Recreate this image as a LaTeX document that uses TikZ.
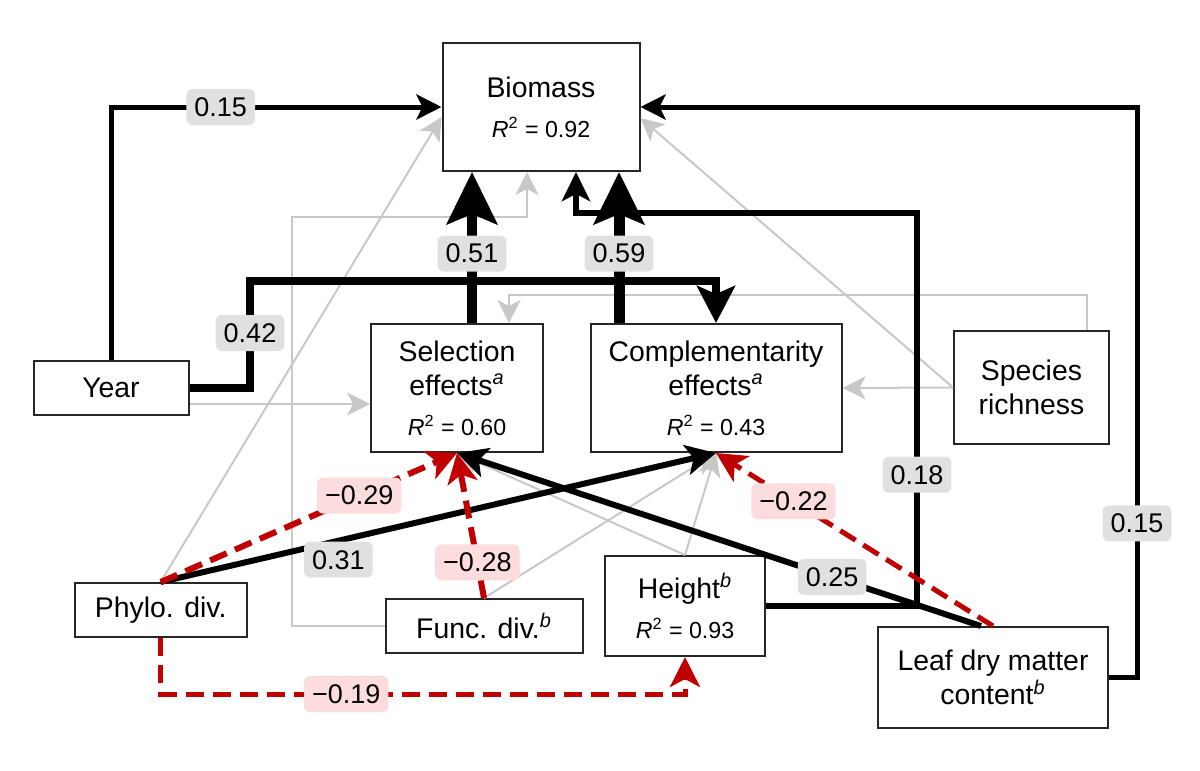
\documentclass[tikz,border=0pt]{standalone}
\usepackage{fontspec}
\setmainfont{Liberation Sans}
\usetikzlibrary{arrows.meta}
\definecolor{sigred}{RGB}{192,0,0}
\definecolor{linegray}{RGB}{200,200,200}
\definecolor{labgray}{RGB}{224,224,224}
\definecolor{labpink}{RGB}{252,220,220}
\newcommand{\rsq}[1]{{\fontsize{11.6}{14}\selectfont\textit{R}\textsuperscript{2} = #1}}

\begin{document}
\begin{tikzpicture}[x=0.5pt, y=-0.5pt,
  box/.style={draw=black!85, line width=1pt, fill=white, align=center, inner sep=0pt,
    font=\fontsize{14.2}{17}\selectfont},
  lab/.style={fill=labgray, rounded corners=3pt, inner xsep=4pt, inner ysep=0pt,
    minimum height=18pt, font=\fontsize{13.5}{16}\selectfont},
  neglab/.style={lab, fill=labpink},
  gr/.style={draw=linegray, line width=1pt, -{Stealth[length=11.5pt,width=11.5pt,inset=3pt]}},
  b15/.style={line width=2.5pt, -{Stealth[length=12.5pt,width=12.5pt,inset=3pt]}},
  b18/.style={line width=3pt, -{Stealth[length=14.5pt,width=14pt,inset=3.5pt]}},
  b25/.style={line width=3pt, -{Stealth[length=15pt,width=15pt,inset=3.5pt]}},
  b42/.style={line width=4pt, -{Stealth[length=18.5pt,width=19pt,inset=4pt]}},
  b51/.style={line width=5pt, -{Stealth[length=26pt,width=25pt,inset=5pt]}},
  rd/.style={draw=sigred, line width=3pt, dash pattern=on 9pt off 4.5pt,
    -{Stealth[length=15pt,width=15pt,inset=4pt]}}]
\useasboundingbox (0,0) rectangle (1200,771);

% boxes
\node[box, minimum width=98.5pt, minimum height=64pt] (bio) at (541,107)
  {Biomass\\[3pt]\rsq{0.92}};
\node[box, minimum width=77.5pt, minimum height=27pt] (year) at (111,388) {Year};
\node[box, minimum width=86pt, minimum height=64pt] (sel) at (457,388)
  {Selection\\effects\textsuperscript{\textit{a}}\\[3pt]\rsq{0.60}};
\node[box, minimum width=125.5pt, minimum height=64pt] (comp) at (716,388)
  {Complementarity\\effects\textsuperscript{\textit{a}}\\[3pt]\rsq{0.43}};
\node[box, minimum width=77.5pt, minimum height=56.5pt] (sr) at (1031.5,387.5)
  {Species\\richness};
\node[box, minimum width=86pt, minimum height=27pt] (phylo) at (160.7,610) {Phylo. div.};
\node[box, minimum width=98.5pt, minimum height=27pt] (func) at (484,626)
  {Func. div.\textsuperscript{\textit{b}}};
\node[box, minimum width=80pt, minimum height=50pt] (height) at (685,606)
  {Height\textsuperscript{\textit{b}}\\[3pt]\rsq{0.93}};
\node[box, minimum width=115pt, minimum height=50.5pt] (ldmc) at (993,677.5)
  {Leaf dry matter\\content\textsuperscript{\textit{b}}};

\coordinate (ys) at (0,404);
\coordinate (ss) at (1087,295);
\coordinate (st) at (509,295);
\coordinate (fa) at (292,217);
\coordinate (fb) at (527,217);
\coordinate (lr) at (1137,107);
\coordinate (hr) at (917,213);
\coordinate (hb) at (576,213);
\coordinate (sb) at (472,0);
\coordinate (cb) at (619,0);
\coordinate (yc) at (250,281);
\coordinate (hp) at (685,694);

% non-significant paths
\draw[gr] (year.east |- ys) -- (sel.west |- ys);
\draw[gr] (ss |- sr.north) -- (ss) -- (st) -- (st |- sel.north);
\draw[gr] (sr.west) -- (comp.east);
\draw[gr] (sr.west) -- ([yshift=-5.5pt]bio.east);
\draw[gr] (phylo.north) -- ([yshift=-5pt]bio.west);
\draw[gr] (func.west) -| (fa) -- (fb) -- (fb |- bio.south);
\draw[gr] (func.north) -- (comp.south);
\draw[gr] (height.north) -- (sel.south);
\draw[gr] (height.north) -- (comp.south);

% positive paths
\draw[b15] (year.north) |- node[lab, pos=0.666] {0.15} (bio.west);
\draw[b15] (ldmc.east) -| node[lab, pos=0.635] {0.15} (lr) -- (bio.east);
\draw[b18] (height.east) -| node[lab, pos=0.667] {0.18} (hr) -- (hb) -- (hb |- bio.south);
\draw[b51] (sb |- sel.north) -- node[lab, pos=0.46] {0.51} (sb |- bio.south);
\draw[b51, line width=5.5pt] (cb |- comp.north) -- node[lab, pos=0.46] {0.59} (cb |- bio.south);
\draw[b42] (year.east) -| node[lab, pos=0.757] {0.42} (yc) -| (comp.north);
\draw[b25] (phylo.north) -- node[lab, pos=0.32, yshift=-9.5pt] {0.31} (comp.south);
\draw[b25] ([xshift=-6pt]ldmc.north) -- node[lab, pos=0.284] {0.25} (sel.south);

% negative paths
\draw[rd] (phylo.north) -- node[neglab, pos=0.67] {−0.29} (sel.south);
\draw[rd] (func.north) -- node[neglab, pos=0.245] {−0.28} (sel.south);
\draw[rd, line width=2.5pt] (ldmc.north) -- node[neglab, pos=0.72] {−0.22} (comp.south);
\draw[rd, line width=2.5pt] (phylo.south) |- node[neglab, pos=0.677] {−0.19} (hp) -- (height.south);
\end{tikzpicture}
\end{document}
